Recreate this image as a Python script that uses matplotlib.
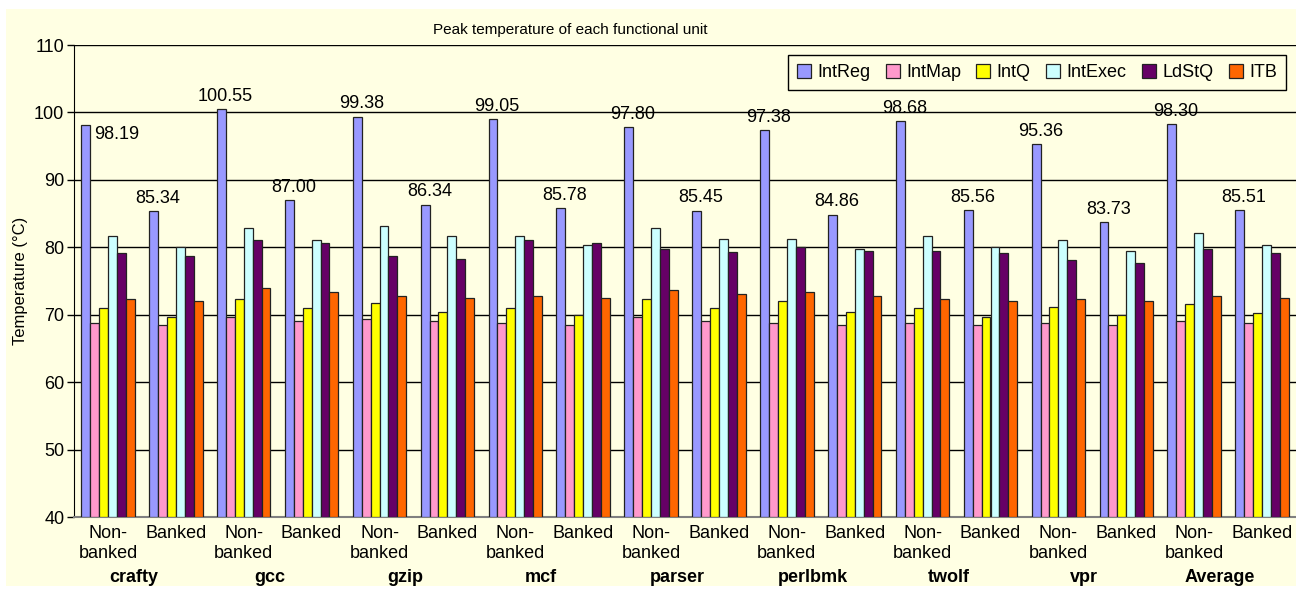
import numpy as np
import matplotlib
matplotlib.use("Agg")
import matplotlib.pyplot as plt
from matplotlib.patches import Rectangle

plt.rcParams['font.family'] = ['Liberation Sans', 'DejaVu Sans']

## data
benchmarks = ['crafty', 'gcc', 'gzip', 'mcf', 'parser', 'perlbmk', 'twolf', 'vpr', 'Average']
configs = ['Non-\nbanked', 'Banked']
units = ['IntReg', 'IntMap', 'IntQ', 'IntExec', 'LdStQ', 'ITB']

IntReg = [98.19, 85.34, 100.55, 87.00, 99.38, 86.34, 99.05, 85.78, 97.80, 85.45,
          97.38, 84.86, 98.68, 85.56, 95.36, 83.73, 98.30, 85.51]
IntMap = [68.8, 68.5, 69.7, 69.1, 69.4, 69.1, 68.8, 68.5, 69.7, 69.1,
          68.8, 68.5, 68.8, 68.5, 68.8, 68.5, 69.1, 68.8]
IntQ = [71.0, 69.7, 72.3, 71.0, 71.8, 70.4, 71.0, 69.9, 72.3, 71.0,
        72.0, 70.4, 71.0, 69.7, 71.2, 69.9, 71.6, 70.2]
IntExec = [81.6, 80.0, 82.9, 81.1, 83.2, 81.6, 81.6, 80.3, 82.9, 81.3,
           81.3, 79.7, 81.6, 80.0, 81.1, 79.5, 82.1, 80.3]
LdStQ = [79.2, 78.7, 81.1, 80.6, 78.7, 78.2, 81.1, 80.6, 79.7, 79.3,
         80.0, 79.5, 79.5, 79.2, 78.1, 77.6, 79.7, 79.2]
ITB = [72.3, 72.0, 73.9, 73.3, 72.8, 72.5, 72.8, 72.5, 73.6, 73.1,
       73.3, 72.8, 72.3, 72.0, 72.3, 72.0, 72.8, 72.5]

series = [IntReg, IntMap, IntQ, IntExec, LdStQ, ITB]
colors = ['#9999FF', '#FF99CC', '#FFFF00', '#CCFFFF', '#660066', '#FF6600']
bg = '#FFFFE3'

W, H = 1296, 589
fig = plt.figure(figsize=(W / 100, H / 100), dpi=100, facecolor='white')
## yellow chart area, white strip at top and left
fig.patches.append(Rectangle((6 / W, 3 / H), 1 - 6 / W, 1 - 12 / H,
                             transform=fig.transFigure, facecolor=bg,
                             edgecolor='none', zorder=-5))

ax = fig.add_axes([74 / W, 1 - 517 / H, 1 - 74 / W, (517 - 45) / H])
ax.set_facecolor(bg)

n_cat = len(benchmarks) * len(configs)
x = np.arange(n_cat)
bw = 0.131
for k, (vals, c, name) in enumerate(zip(series, colors, units)):
    offs = (k - 2.5) * bw
    ax.bar(x + offs, np.array(vals) - 40, bw, bottom=40, color=c,
           edgecolor='#222222', linewidth=0.9, label=name, zorder=3)

## value labels on the IntReg bars
for i, v in enumerate(IntReg):
    xi = x[i] - 2.5 * bw
    if i == 0:
        ax.annotate(f'{v:.2f}', (xi, v), xytext=(22, -7), textcoords='offset points',
                    ha='center', va='center', fontsize=13, zorder=5)
    else:
        ax.annotate(f'{v:.2f}', (xi, v), xytext=(3, 3), textcoords='offset points',
                    ha='center', va='bottom', fontsize=13, zorder=5)

ax.set_ylim(40, 110)
ax.set_xlim(-0.5, n_cat - 0.5)
ax.set_yticks(range(40, 111, 10))
ax.yaxis.grid(True, color='black', linewidth=1.0, zorder=1)
ax.set_axisbelow(True)
ax.tick_params(axis='y', labelsize=13, length=5, width=1, pad=2)
ax.tick_params(axis='x', labelsize=13, length=0, pad=6)
ax.set_xticks(x)
ax.set_xticklabels(configs * len(benchmarks), va='top', linespacing=1.2)

for s in ['top', 'right']:
    ax.spines[s].set_visible(False)
ax.spines['left'].set_color('black')
ax.spines['bottom'].set_color('#808080')
ax.spines['bottom'].set_linewidth(1.5)

## benchmark names under each pair
for j, b in enumerate(benchmarks):
    ax.text(2 * j + 0.5 - 0.12, -0.129, b, transform=ax.get_xaxis_transform(),
            ha='center', va='center', fontsize=13, fontweight='bold')

ax.set_ylabel('Temperature (°C)', fontsize=12)
ax.yaxis.set_label_coords(-0.038, 0.5)

fig.text(570 / W, 1 - 30 / H, 'Peak temperature of each functional unit',
         ha='center', va='center', fontsize=11)

leg = ax.legend(loc='upper right', bbox_to_anchor=(1286 / W, 1 - 55 / H),
                bbox_transform=fig.transFigure, ncol=6, fontsize=13,
                frameon=True, fancybox=False, edgecolor='black', facecolor=bg,
                framealpha=1, handlelength=0.78, handleheight=0.78,
                handletextpad=0.35, columnspacing=0.85, borderpad=0.5,
                borderaxespad=0)
leg.get_frame().set_linewidth(1.0)

plt.savefig('out.png', dpi=100, facecolor=fig.get_facecolor())
